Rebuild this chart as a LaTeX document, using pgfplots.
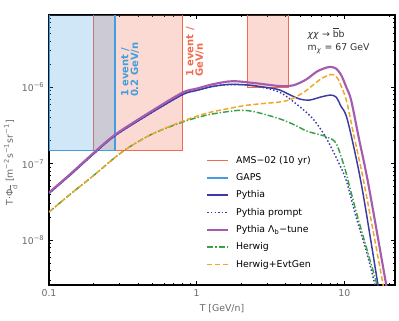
\documentclass[border=0pt]{standalone}
\usepackage{fontspec}
\setmainfont{DejaVu Sans}
\usepackage{pgfplots}
\pgfplotsset{compat=1.18}

\definecolor{amsred}{RGB}{240,108,78}
\definecolor{gapsblue}{RGB}{66,158,222}
\definecolor{pyblue}{RGB}{58,58,165}
\definecolor{lbpurple}{RGB}{165,92,175}
\definecolor{hwgreen}{RGB}{58,160,72}
\definecolor{evtorange}{RGB}{240,165,35}
\definecolor{labgray}{RGB}{105,105,105}

\begin{document}
\begin{tikzpicture}
\begin{axis}[
  scale only axis, width=259.5pt, height=202.5pt,
  xmode=log, ymode=log,
  xmin=0.1, xmax=22, ymin=2.6e-9, ymax=8.8e-6,
  xtick={0.1,1,10}, xticklabels={0.1,1,10},
  minor xtick={0.2,0.3,0.4,0.5,0.6,0.7,0.8,0.9,2,3,4,5,6,7,8,9,20},
  ytick={1e-8,1e-7,1e-6},
  yticklabels={10\textsuperscript{−8},10\textsuperscript{−7},10\textsuperscript{−6}},
  minor ytick={3e-9,4e-9,5e-9,6e-9,7e-9,8e-9,9e-9,
    2e-8,3e-8,4e-8,5e-8,6e-8,7e-8,8e-8,9e-8,
    2e-7,3e-7,4e-7,5e-7,6e-7,7e-7,8e-7,9e-7,
    2e-6,3e-6,4e-6,5e-6,6e-6,7e-6,8e-6},
  tick align=inside, major tick length=3pt, minor tick length=1.5pt,
  every tick/.style={black, line width=0.5pt},
  axis line style={line width=0.9pt},
  tick label style={font=\fontsize{7}{8}\selectfont, text=labgray},
  label style={font=\fontsize{7}{8}\selectfont, text=labgray},
  xlabel={T [GeV/n]},
  xlabel style={at={(rel axis cs:0.5,-0.089)}, anchor=center},
  ylabel={T·Φ\textsubscript{$\overline{\mbox{d}}$} [m\textsuperscript{−2}s\textsuperscript{−1}sr\textsuperscript{−1}]},
  ylabel style={at={(rel axis cs:-0.111,0.452)}, anchor=center, rotate=0},
  legend image code/.code={\draw[#1] (0pt,0pt) -- (15.5pt,0pt);},
  legend cell align=left,
  legend style={at={(rel axis cs:0.454,0.479)}, anchor=north west,
    draw=none, fill=none, inner sep=0pt, row sep=6.2pt, column sep=5.25pt,
    font=\fontsize{7}{8}\selectfont,
    nodes={inner sep=0pt, text height=5.3pt, text depth=1.5pt}},
]

% detector sensitivity boxes
\addplot[draw=amsred, fill=amsred, fill opacity=0.25, line width=1pt, forget plot]
  coordinates {(0.2,1e-4) (0.2,1.5e-7) (0.8,1.5e-7) (0.8,1e-4)} -- cycle;
\addplot[draw=amsred, fill=amsred, fill opacity=0.25, line width=1pt, forget plot]
  coordinates {(2.2,1e-4) (2.2,1.0e-6) (4.2,1.0e-6) (4.2,1e-4)} -- cycle;
\addplot[draw=gapsblue, fill=gapsblue, fill opacity=0.25, line width=1pt, forget plot]
  coordinates {(0.1,1e-4) (0.1,1.5e-7) (0.28,1.5e-7) (0.28,1e-4)} -- cycle;

\addlegendimage{amsred, line width=1.1pt}
\addlegendentry{AMS−02 (10 yr)}
\addlegendimage{gapsblue, line width=1.1pt}
\addlegendentry{GAPS}

% Pythia
\addplot[pyblue, line width=1.1pt, smooth] coordinates {
  (0.1,4.1e-8) (0.14,7.2e-8) (0.2,1.34e-7) (0.28,2.33e-7) (0.48,4.5e-7)
  (0.8,8.0e-7) (1.0,9.1e-7) (1.3,1.03e-6) (1.67,1.09e-6) (2.2,1.07e-6)
  (3.0,9.9e-7) (3.6,9.3e-7) (4.25,8.0e-7) (5.0,7.0e-7) (5.8,6.8e-7)
  (7.0,7.5e-7) (8.1,7.9e-7) (8.8,7.4e-7) (9.5,5.6e-7) (10.5,3.7e-7)
  (13,5.5e-8) (16.8,2.75e-9) (17.5,1.7e-9)
};
\addlegendentry{Pythia}

% Pythia prompt
\addplot[pyblue, line width=1.1pt, dash pattern=on 1.1pt off 1.6pt, smooth] coordinates {
  (0.1,4.1e-8) (0.14,7.2e-8) (0.2,1.34e-7) (0.28,2.33e-7) (0.48,4.5e-7)
  (0.8,8.0e-7) (1.0,9.1e-7) (1.3,1.03e-6) (1.6,1.08e-6) (2.0,1.08e-6)
  (2.5,1.04e-6) (3.6,8.7e-7) (4.7,6.1e-7) (6.1,3.9e-7) (7.5,2.2e-7)
  (9.0,1.1e-7) (10.3,6.0e-8) (12,2.0e-8) (14,7.5e-9) (16,2.75e-9) (16.8,1.7e-9)
};
\addlegendentry{Pythia prompt}

% Pythia Lambda_b tune
\addplot[lbpurple, line width=1.6pt, smooth] coordinates {
  (0.1,4.2e-8) (0.14,7.4e-8) (0.2,1.38e-7) (0.28,2.4e-7) (0.48,4.7e-7)
  (0.8,8.5e-7) (1.0,9.6e-7) (1.3,1.1e-6) (1.75,1.2e-6) (2.5,1.13e-6)
  (3.6,1.04e-6) (4.5,1.06e-6) (5.5,1.26e-6) (6.5,1.6e-6) (7.5,1.8e-6)
  (8.1,1.84e-6) (8.8,1.75e-6) (9.5,1.45e-6) (10.3,1.0e-6) (11.1,6.8e-7)
  (12.5,2.2e-7) (14.5,5.5e-8) (19.1,2.75e-9) (20,1.7e-9)
};
\addlegendentry{Pythia Λ\textsubscript{b}−tune}

% Herwig
\addplot[hwgreen, line width=1.1pt, dash pattern=on 4.5pt off 1.5pt on 1pt off 1.5pt, smooth] coordinates {
  (0.1,2.34e-8) (0.146,4.3e-8) (0.2,7.0e-8) (0.316,1.45e-7) (0.5,2.45e-7)
  (0.8,3.5e-7) (1.05,4.1e-7) (1.3,4.5e-7) (1.95,5.0e-7) (2.5,4.75e-7)
  (3.6,3.9e-7) (4.5,3.28e-7) (5.5,2.7e-7) (6.5,2.45e-7) (7.1,2.35e-7)
  (7.8,2.2e-7) (8.8,1.84e-7) (10.0,9.1e-8) (11,4.5e-8) (12.3,2.0e-8)
  (14.5,6.6e-9) (16.5,2.75e-9) (17.3,1.7e-9)
};
\addlegendentry{Herwig}

% Herwig+EvtGen
\addplot[evtorange, line width=1.1pt, dash pattern=on 3.8pt off 1.9pt, smooth] coordinates {
  (0.1,2.34e-8) (0.146,4.3e-8) (0.2,7.0e-8) (0.316,1.45e-7) (0.5,2.45e-7)
  (0.8,3.6e-7) (1.05,4.3e-7) (1.29,4.8e-7) (2.17,5.8e-7) (3.6,6.4e-7)
  (4.2,6.8e-7) (4.7,7.5e-7) (5.4,8.8e-7) (6.1,1.06e-6) (7.0,1.3e-6)
  (8.1,1.47e-6) (8.7,1.4e-6) (9.2,1.2e-6) (10.3,6.8e-7) (11.5,2.5e-7)
  (13.6,5.5e-8) (18.2,2.75e-9) (19,1.7e-9)
};
\addlegendentry{Herwig+EvtGen}

\node[rotate=90, anchor=north west, align=left, inner sep=0pt, text=gapsblue,
  font=\bfseries\fontsize{7.5}{7.2}\selectfont] at (axis cs:0.3066,7.4e-7) {1 event /\\0.2 GeV/n};
\node[rotate=90, anchor=north west, align=left, inner sep=0pt, text=amsred,
  font=\bfseries\fontsize{7.5}{7.2}\selectfont] at (axis cs:0.843,1.36e-6) {1 event /\\GeV/n};
\node[anchor=west, inner sep=0pt, font=\fontsize{7}{8}\selectfont, text=black!80]
  at (axis cs:5.62,5.08e-6) {\textit{χχ} → $\overline{\mbox{b}}$b};
\node[anchor=west, inner sep=0pt, font=\fontsize{7}{8}\selectfont, text=black!80]
  at (axis cs:5.62,3.2e-6) {m\textsubscript{\textit{χ}} = 67 GeV};
\end{axis}
\pgfresetboundingbox
\path ([shift={(-36.75pt,-26.25pt)}]current axis.south west) rectangle ([shift={(3pt,11.25pt)}]current axis.north east);
\end{tikzpicture}
\end{document}
